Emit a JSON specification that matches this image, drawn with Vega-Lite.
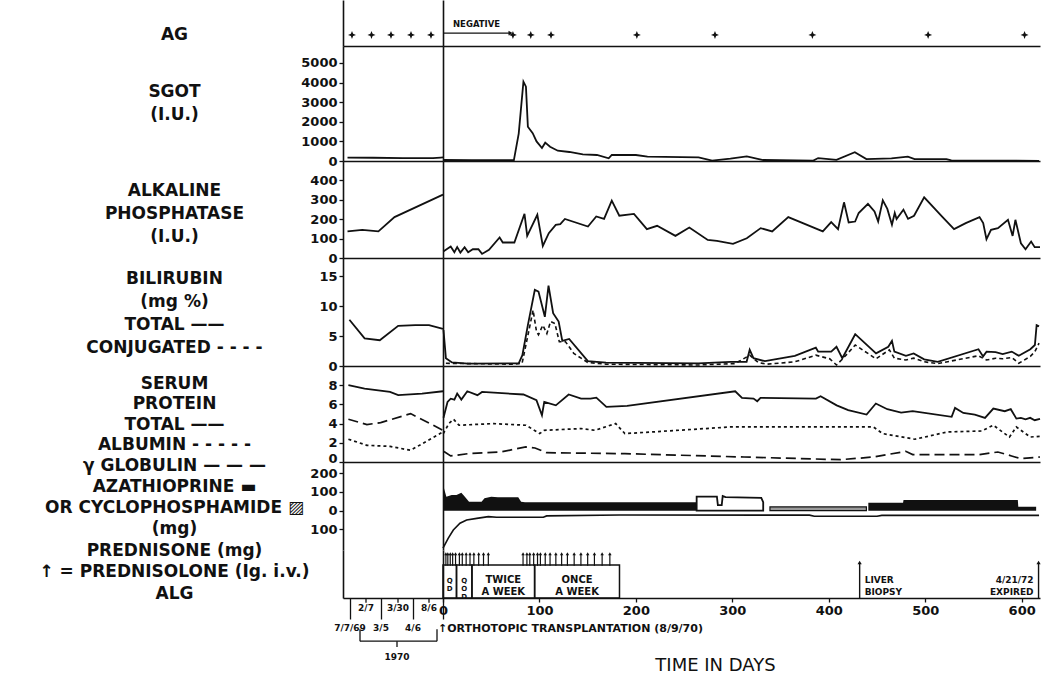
{
"$schema":"https://vega.github.io/schema/vega-lite/v6.json",
"autosize":{"type":"none"},
"padding":{"left":343,"top":0,"right":707,"bottom":686},
"background":"white",
"columns":2,
"spacing":0,
"bounds":"flush",
"config":{
 "view":{"stroke":null},
 "axis":{"grid":false,"domainColor":"#111","domainWidth":1.6,"tickColor":"#111","tickWidth":1.3,"labelColor":"#111","titleColor":"#111","labelFont":"DejaVu Sans","labelFontWeight":"bold","titleFont":"DejaVu Sans","titleFontWeight":"bold","labelFlush":false,"labelOverlap":false},
 "axisX":{"labelOverlap":false},
 "axisY":{"labelOverlap":false},
 "axisQuantitative":{"labelOverlap":false},
 "line":{"color":"#111","strokeWidth":1.8},
 "text":{"font":"DejaVu Sans","fontWeight":"bold","color":"#111"},
 "rule":{"color":"#111"}
},
"datasets":{
 "ag_pre":[{"pos":9},{"pos":28.5},{"pos":48},{"pos":68},{"pos":88}],
 "ag_post":[{"day":72.5},{"day":91},{"day":112},{"day":201},{"day":282},{"day":383},{"day":503},{"day":603}],
 "ag_neg":[{"start":0,"end":70,"label":"NEGATIVE"}],
 "sgot_pre":[{"pos":4.5,"value":170},{"pos":30,"value":165},{"pos":60,"value":150},{"pos":90,"value":150},{"pos":97.6,"value":175},{"pos":100,"value":180}],
 "sgot_post":[{"day":0,"value":50},{"day":30,"value":40},{"day":60,"value":45},{"day":73.5,"value":40},{"day":78.5,"value":1400},{"day":83.4,"value":4045},{"day":86,"value":3790},{"day":88,"value":1750},{"day":93,"value":1420},{"day":97,"value":1000},{"day":102.6,"value":660},{"day":106,"value":935},{"day":111,"value":730},{"day":119,"value":525},{"day":131,"value":460},{"day":145,"value":340},{"day":159.6,"value":306},{"day":171.8,"value":136},{"day":175,"value":306},{"day":200,"value":306},{"day":212,"value":220},{"day":265,"value":190},{"day":279,"value":20},{"day":298,"value":120},{"day":315,"value":240},{"day":332,"value":50},{"day":384,"value":20},{"day":389,"value":150},{"day":408,"value":60},{"day":427,"value":450},{"day":439,"value":100},{"day":465,"value":130},{"day":482,"value":220},{"day":489,"value":100},{"day":522,"value":100},{"day":527,"value":30},{"day":618,"value":10}],
 "alk_pre":[{"pos":4.5,"value":137},{"pos":19.3,"value":145},{"pos":35.4,"value":137},{"pos":51.5,"value":211},{"pos":100,"value":327}],
 "alk_post":[{"day":0.3,"value":33},{"day":8,"value":59},{"day":11.8,"value":30},{"day":14.7,"value":56},{"day":18,"value":28},{"day":22.4,"value":56},{"day":26.1,"value":30},{"day":30.9,"value":45},{"day":36.7,"value":45},{"day":40.5,"value":21},{"day":47.7,"value":42},{"day":58.7,"value":106},{"day":62,"value":80},{"day":74,"value":80},{"day":84.5,"value":228},{"day":87.3,"value":114},{"day":97.8,"value":223},{"day":103.5,"value":62},{"day":109.7,"value":128},{"day":116.9,"value":171},{"day":121.6,"value":175},{"day":126.4,"value":201},{"day":150.3,"value":162},{"day":158.9,"value":214},{"day":167,"value":202},{"day":175,"value":296},{"day":182.8,"value":218},{"day":198,"value":227},{"day":211.4,"value":149},{"day":222,"value":166},{"day":241,"value":114},{"day":255.4,"value":157},{"day":274.5,"value":93},{"day":284,"value":88},{"day":300.7,"value":73},{"day":315,"value":102},{"day":329.4,"value":154},{"day":341.3,"value":137},{"day":358,"value":211},{"day":393.8,"value":137},{"day":402.5,"value":185},{"day":409.6,"value":149},{"day":415.8,"value":287},{"day":420.6,"value":183},{"day":427.3,"value":188},{"day":431,"value":232},{"day":440.6,"value":279},{"day":447.4,"value":240},{"day":451.2,"value":188},{"day":456,"value":297},{"day":460.7,"value":253},{"day":465.5,"value":171},{"day":468.4,"value":232},{"day":470.3,"value":201},{"day":477.4,"value":249},{"day":482.2,"value":202},{"day":488.4,"value":218},{"day":498.9,"value":313},{"day":518,"value":211},{"day":529.9,"value":149},{"day":542,"value":180},{"day":556.3,"value":211},{"day":560.1,"value":180},{"day":563.5,"value":97},{"day":568.2,"value":145},{"day":575.4,"value":154},{"day":585.8,"value":197},{"day":590.6,"value":114},{"day":593.5,"value":197},{"day":599.2,"value":76},{"day":604,"value":45},{"day":609.8,"value":85},{"day":613.5,"value":56},{"day":619,"value":56}],
 "bili_pre":[{"pos":6.4,"value":7.7,"series":"total"},{"pos":21.6,"value":4.6,"series":"total"},{"pos":36.8,"value":4.3,"series":"total"},{"pos":55.2,"value":6.7,"series":"total"},{"pos":72.3,"value":6.8,"series":"total"},{"pos":86,"value":6.8,"series":"total"},{"pos":100,"value":6.2,"series":"total"}],
 "bili_post":[
  {"day":0.5,"value":6.0,"series":"total"},{"day":3,"value":1.3,"series":"total"},{"day":9.3,"value":0.6,"series":"total"},{"day":26,"value":0.4,"series":"total"},{"day":78.5,"value":0.45,"series":"total"},{"day":82.3,"value":1.8,"series":"total"},{"day":88,"value":6.8,"series":"total"},{"day":95.2,"value":12.7,"series":"total"},{"day":99,"value":12.4,"series":"total"},{"day":105.6,"value":8.2,"series":"total"},{"day":109.4,"value":13.4,"series":"total"},{"day":114.2,"value":8.8,"series":"total"},{"day":119.9,"value":7.4,"series":"total"},{"day":123.7,"value":4.2,"series":"total"},{"day":130.8,"value":4.5,"series":"total"},{"day":150.2,"value":0.8,"series":"total"},{"day":169,"value":0.55,"series":"total"},{"day":264.7,"value":0.45,"series":"total"},{"day":298,"value":0.7,"series":"total"},{"day":314.8,"value":0.7,"series":"total"},{"day":318,"value":2.7,"series":"total"},{"day":321.9,"value":1.3,"series":"total"},{"day":333.8,"value":0.8,"series":"total"},{"day":364.8,"value":1.7,"series":"total"},{"day":386.6,"value":3.05,"series":"total"},{"day":389,"value":2.4,"series":"total"},{"day":402.5,"value":2.4,"series":"total"},{"day":408,"value":3.2,"series":"total"},{"day":414,"value":1.3,"series":"total"},{"day":427.4,"value":5.3,"series":"total"},{"day":449,"value":2.1,"series":"total"},{"day":461.7,"value":3.2,"series":"total"},{"day":465.5,"value":4.2,"series":"total"},{"day":468,"value":2.4,"series":"total"},{"day":480,"value":1.7,"series":"total"},{"day":488,"value":2.1,"series":"total"},{"day":498.9,"value":1.1,"series":"total"},{"day":513,"value":0.7,"series":"total"},{"day":555.2,"value":2.8,"series":"total"},{"day":560,"value":1.6,"series":"total"},{"day":563.6,"value":2.4,"series":"total"},{"day":573,"value":2.3,"series":"total"},{"day":580.3,"value":2.0,"series":"total"},{"day":589.7,"value":2.4,"series":"total"},{"day":597,"value":1.7,"series":"total"},{"day":609,"value":2.8,"series":"total"},{"day":613.7,"value":3.5,"series":"total"},{"day":615.5,"value":6.8,"series":"total"},{"day":618,"value":6.6,"series":"total"},
  {"day":3,"value":0.45,"series":"conjugated"},{"day":74,"value":0.3,"series":"conjugated"},{"day":82,"value":0.45,"series":"conjugated"},{"day":87,"value":4.3,"series":"conjugated"},{"day":93.4,"value":9.3,"series":"conjugated"},{"day":97,"value":5.7,"series":"conjugated"},{"day":99,"value":5.2,"series":"conjugated"},{"day":103.5,"value":6.8,"series":"conjugated"},{"day":107.7,"value":5.4,"series":"conjugated"},{"day":111.5,"value":7.4,"series":"conjugated"},{"day":116,"value":7.1,"series":"conjugated"},{"day":120.6,"value":4.05,"series":"conjugated"},{"day":127,"value":4.05,"series":"conjugated"},{"day":135.6,"value":2.1,"series":"conjugated"},{"day":150,"value":0.6,"series":"conjugated"},{"day":169,"value":0.3,"series":"conjugated"},{"day":264.7,"value":0.17,"series":"conjugated"},{"day":302.8,"value":0.4,"series":"conjugated"},{"day":318,"value":1.8,"series":"conjugated"},{"day":326.8,"value":0.6,"series":"conjugated"},{"day":336,"value":0.3,"series":"conjugated"},{"day":364.8,"value":0.7,"series":"conjugated"},{"day":386.6,"value":1.8,"series":"conjugated"},{"day":401,"value":1.2,"series":"conjugated"},{"day":408,"value":0.17,"series":"conjugated"},{"day":415,"value":1.3,"series":"conjugated"},{"day":427.4,"value":3.5,"series":"conjugated"},{"day":449,"value":1.2,"series":"conjugated"},{"day":462.8,"value":2.7,"series":"conjugated"},{"day":468,"value":1.3,"series":"conjugated"},{"day":480,"value":1.0,"series":"conjugated"},{"day":488,"value":1.3,"series":"conjugated"},{"day":499,"value":0.7,"series":"conjugated"},{"day":513,"value":0.4,"series":"conjugated"},{"day":555,"value":1.7,"series":"conjugated"},{"day":563.6,"value":1.0,"series":"conjugated"},{"day":573,"value":1.3,"series":"conjugated"},{"day":580,"value":1.2,"series":"conjugated"},{"day":590,"value":1.4,"series":"conjugated"},{"day":597,"value":0.45,"series":"conjugated"},{"day":609,"value":1.6,"series":"conjugated"},{"day":613.7,"value":2.4,"series":"conjugated"},{"day":618,"value":3.8,"series":"conjugated"}],
 "prot_pre":[
  {"pos":5.4,"value":8.0,"series":"total"},{"pos":21.6,"value":7.65,"series":"total"},{"pos":47,"value":7.3,"series":"total"},{"pos":55.2,"value":6.96,"series":"total"},{"pos":79,"value":7.13,"series":"total"},{"pos":100,"value":7.37,"series":"total"},
  {"pos":5.4,"value":2.37,"series":"albumin"},{"pos":23.9,"value":1.74,"series":"albumin"},{"pos":47,"value":1.63,"series":"albumin"},{"pos":67.6,"value":1.22,"series":"albumin"},{"pos":100,"value":3.13,"series":"albumin"},
  {"pos":5.4,"value":4.45,"series":"globulin"},{"pos":23.9,"value":3.9,"series":"globulin"},{"pos":37.7,"value":4.1,"series":"globulin"},{"pos":67.6,"value":5.04,"series":"globulin"},{"pos":100,"value":3.3,"series":"globulin"}],
 "prot_post":[
  {"day":0.5,"value":4.6,"series":"total"},{"day":4.7,"value":6.26,"series":"total"},{"day":8,"value":6.6,"series":"total"},{"day":11.8,"value":6.5,"series":"total"},{"day":14.7,"value":7.13,"series":"total"},{"day":19,"value":6.5,"series":"total"},{"day":25.2,"value":7.37,"series":"total"},{"day":35.7,"value":6.96,"series":"total"},{"day":40.5,"value":7.3,"series":"total"},{"day":83.4,"value":7.03,"series":"total"},{"day":96.9,"value":6.43,"series":"total"},{"day":102.6,"value":4.87,"series":"total"},{"day":105,"value":6.26,"series":"total"},{"day":117,"value":5.9,"series":"total"},{"day":130.3,"value":7.03,"series":"total"},{"day":143.2,"value":6.6,"series":"total"},{"day":152.9,"value":6.6,"series":"total"},{"day":159,"value":6.7,"series":"total"},{"day":169.4,"value":5.74,"series":"total"},{"day":190.9,"value":5.84,"series":"total"},{"day":303,"value":7.37,"series":"total"},{"day":310,"value":6.68,"series":"total"},{"day":322,"value":6.6,"series":"total"},{"day":325.8,"value":6.33,"series":"total"},{"day":329.2,"value":6.68,"series":"total"},{"day":386.7,"value":6.6,"series":"total"},{"day":391.5,"value":6.85,"series":"total"},{"day":408.2,"value":5.9,"series":"total"},{"day":420.1,"value":5.4,"series":"total"},{"day":439.2,"value":4.94,"series":"total"},{"day":448.8,"value":6.09,"series":"total"},{"day":460.7,"value":5.5,"series":"total"},{"day":475,"value":5.15,"series":"total"},{"day":487,"value":5.29,"series":"total"},{"day":527.4,"value":4.7,"series":"total"},{"day":530.9,"value":5.63,"series":"total"},{"day":539.5,"value":5.11,"series":"total"},{"day":551.4,"value":4.94,"series":"total"},{"day":562,"value":4.6,"series":"total"},{"day":570.6,"value":5.57,"series":"total"},{"day":582.5,"value":5.29,"series":"total"},{"day":588.7,"value":5.5,"series":"total"},{"day":594.5,"value":4.52,"series":"total"},{"day":599.2,"value":4.6,"series":"total"},{"day":604,"value":4.45,"series":"total"},{"day":608.8,"value":4.6,"series":"total"},{"day":613.5,"value":4.35,"series":"total"},{"day":619,"value":4.5,"series":"total"},
  {"day":0.3,"value":2.96,"series":"albumin"},{"day":6.1,"value":4.0,"series":"albumin"},{"day":10.9,"value":4.45,"series":"albumin"},{"day":16.6,"value":3.83,"series":"albumin"},{"day":52.4,"value":4.0,"series":"albumin"},{"day":86,"value":3.83,"series":"albumin"},{"day":100.3,"value":2.96,"series":"albumin"},{"day":105,"value":3.3,"series":"albumin"},{"day":143.2,"value":3.48,"series":"albumin"},{"day":157.5,"value":3.3,"series":"albumin"},{"day":179,"value":4.0,"series":"albumin"},{"day":188.6,"value":2.96,"series":"albumin"},{"day":217.2,"value":3.13,"series":"albumin"},{"day":298,"value":3.65,"series":"albumin"},{"day":446.3,"value":3.65,"series":"albumin"},{"day":455.9,"value":2.96,"series":"albumin"},{"day":489.3,"value":2.37,"series":"albumin"},{"day":522.7,"value":3.13,"series":"albumin"},{"day":558.5,"value":3.23,"series":"albumin"},{"day":570.6,"value":3.83,"series":"albumin"},{"day":587.3,"value":2.6,"series":"albumin"},{"day":594.5,"value":3.65,"series":"albumin"},{"day":609,"value":2.6,"series":"albumin"},{"day":619,"value":2.68,"series":"albumin"},
  {"day":1,"value":1.1,"series":"globulin"},{"day":8,"value":0.63,"series":"globulin"},{"day":26,"value":0.87,"series":"globulin"},{"day":59.6,"value":1.04,"series":"globulin"},{"day":86,"value":1.57,"series":"globulin"},{"day":95.4,"value":1.46,"series":"globulin"},{"day":107.4,"value":0.97,"series":"globulin"},{"day":188.6,"value":0.87,"series":"globulin"},{"day":312.1,"value":0.52,"series":"globulin"},{"day":412.3,"value":0.24,"series":"globulin"},{"day":446,"value":0.52,"series":"globulin"},{"day":479.8,"value":1.11,"series":"globulin"},{"day":487,"value":0.77,"series":"globulin"},{"day":556,"value":0.77,"series":"globulin"},{"day":575.3,"value":1.04,"series":"globulin"},{"day":589.5,"value":0.63,"series":"globulin"},{"day":599,"value":0.35,"series":"globulin"},{"day":619,"value":0.52,"series":"globulin"}],
 "aza":[{"day":0,"value":95,"course":1},{"day":1,"value":120,"course":1},{"day":3.5,"value":75,"course":1},{"day":9,"value":84,"course":1},{"day":14,"value":84,"course":1},{"day":19,"value":96,"course":1},{"day":22,"value":79,"course":1},{"day":27,"value":48,"course":1},{"day":40,"value":48,"course":1},{"day":43,"value":66,"course":1},{"day":50,"value":75,"course":1},{"day":57,"value":72,"course":1},{"day":78,"value":72,"course":1},{"day":81,"value":48,"course":1},{"day":85,"value":45,"course":1},{"day":263,"value":45,"course":1},
  {"day":441,"value":43,"course":2},{"day":477,"value":43,"course":2},{"day":477.5,"value":57,"course":2},{"day":596,"value":57,"course":2},{"day":596.5,"value":21,"course":2},{"day":615,"value":21,"course":2}],
 "cyclo":[{"day":263,"value":75,"block":"A"},{"day":284,"value":75,"block":"A"},{"day":285,"value":30,"block":"A"},{"day":289,"value":30,"block":"A"},{"day":290,"value":78,"block":"A"},{"day":293,"value":72,"block":"A"},{"day":330,"value":68,"block":"A"},{"day":332,"value":45,"block":"A"},
  {"day":339,"value":20,"block":"B"},{"day":439,"value":20,"block":"B"}],
 "pred":[{"day":0,"value":-200},{"day":5.5,"value":-147},{"day":10.7,"value":-103},{"day":17.6,"value":-67},{"day":24.5,"value":-50},{"day":35,"value":-41},{"day":47,"value":-32},{"day":55.6,"value":-35},{"day":104,"value":-35},{"day":107.5,"value":-28},{"day":183,"value":-23},{"day":380,"value":-24},{"day":385,"value":-30},{"day":450,"value":-30},{"day":455,"value":-25},{"day":618,"value":-25}],
 "pulses":[{"day":3},{"day":5},{"day":7.5},{"day":10},{"day":13},{"day":17},{"day":20},{"day":24},{"day":28},{"day":32},{"day":37},{"day":42},{"day":47},{"day":83},{"day":87},{"day":90},{"day":94},{"day":98},{"day":101},{"day":106},{"day":111},{"day":117},{"day":123},{"day":129},{"day":136},{"day":143},{"day":150},{"day":157},{"day":165},{"day":173}],
 "alg":[{"start":0,"end":14,"mid":7,"label":"Q\nD"},{"start":14,"end":30,"mid":22,"label":"Q\nO\nD"},{"start":30,"end":95,"mid":62.5,"label":"TWICE\nA WEEK"},{"start":95,"end":183,"mid":139,"label":"ONCE\nA WEEK"}],
 "events":[{"day":432,"label":"LIVER\nBIOPSY"},{"day":617.5,"label":"4/21/72\nEXPIRED"}],
 "transplant":[{"day":0,"label":"↑ORTHOTOPIC  TRANSPLANTATION (8/9/70)"}],
 "year":[{"start":17,"end":94,"mid":54,"label":"1970"}],
 "pre_dates":[{"pos":7,"label":"7/7/69","row":"low"},{"pos":23,"label":"2/7","row":"high"},{"pos":38,"label":"3/5","row":"low"},{"pos":55,"label":"3/30","row":"high"},{"pos":70,"label":"4/6","row":"low"},{"pos":86,"label":"8/6","row":"high"}]
},
"concat":[
 {"width":100,"height":46,"data":{"name":"ag_pre"},
  "mark":{"type":"point","shape":"M0,-1L0.28,-0.28L1,0L0.28,0.28L0,1L-0.28,0.28L-1,0L-0.28,-0.28Z","filled":true,"color":"#111","size":64,"opacity":1},
  "encoding":{
   "x":{"field":"pos","type":"quantitative","scale":{"domain":[0,100],"nice":false,"zero":false},"axis":{"title":null,"labels":false,"ticks":false}},
   "y":{"datum":0.24,"type":"quantitative","scale":{"domain":[0,1],"nice":false},"axis":{"title":"AG","titleAngle":0,"titleAlign":"center","titleBaseline":"top","titleX":-169,"titleY":26,"titleFontSize":17,"labels":false,"ticks":false}}}},
 {"width":597,"height":46,
  "layer":[
   {"data":{"name":"ag_post"},"mark":{"type":"point","shape":"M0,-1L0.28,-0.28L1,0L0.28,0.28L0,1L-0.28,0.28L-1,0L-0.28,-0.28Z","filled":true,"color":"#111","size":64,"opacity":1},
    "encoding":{"x":{"field":"day","type":"quantitative","scale":{"domain":[0,619],"nice":false,"zero":false},"axis":{"title":null,"labels":false,"ticks":false}},"y":{"datum":0.24,"type":"quantitative","scale":{"domain":[0,1],"nice":false},"axis":{"title":null,"labels":false,"ticks":false}}}},
   {"data":{"name":"ag_neg"},"mark":{"type":"rule","strokeWidth":1.3},
    "encoding":{"x":{"field":"start","type":"quantitative"},"x2":{"field":"end"},"y":{"datum":0.28,"type":"quantitative"}}},
   {"data":{"name":"ag_neg"},"mark":{"type":"point","shape":"triangle-right","filled":true,"color":"#111","size":22,"opacity":1},
    "encoding":{"x":{"field":"end","type":"quantitative"},"y":{"datum":0.28,"type":"quantitative"}}},
   {"data":{"name":"ag_neg"},"mark":{"type":"text","align":"left","baseline":"middle","fontSize":8.5,"dx":10},
    "encoding":{"x":{"field":"start","type":"quantitative"},"y":{"datum":0.47,"type":"quantitative"},"text":{"field":"label"}}}
  ]},
 {"width":100,"height":115,"data":{"name":"sgot_pre"},"mark":{"type":"line"},
  "encoding":{
   "x":{"field":"pos","type":"quantitative","scale":{"domain":[0,100],"nice":false,"zero":false},"axis":{"title":null,"labels":false,"ticks":false}},
   "y":{"field":"value","type":"quantitative","scale":{"domain":[0,5867],"nice":false},"axis":{"values":[0,1000,2000,3000,4000,5000],"format":"d","labelOverlap":false,"title":["SGOT","(I.U.)"],"titleAngle":0,"titleAlign":"center","titleBaseline":"top","titleX":-169,"titleY":37,"titleLineHeight":23,"titleFontSize":17,"labelFontSize":13,"tickSize":4,"labelPadding":2}}}},
 {"width":597,"height":115,"data":{"name":"sgot_post"},"mark":{"type":"line"},
  "encoding":{
   "x":{"field":"day","type":"quantitative","scale":{"domain":[0,619],"nice":false,"zero":false},"axis":{"title":null,"labels":false,"ticks":false}},
   "y":{"field":"value","type":"quantitative","scale":{"domain":[0,5867],"nice":false},"axis":{"title":null,"labels":false,"ticks":false}}}},
 {"width":100,"height":97,"data":{"name":"alk_pre"},"mark":{"type":"line"},
  "encoding":{
   "x":{"field":"pos","type":"quantitative","scale":{"domain":[0,100],"nice":false,"zero":false},"axis":{"title":null,"labels":false,"ticks":false}},
   "y":{"field":"value","type":"quantitative","scale":{"domain":[0,500],"nice":false},"axis":{"values":[0,100,200,300,400],"labelOverlap":false,"title":["ALKALINE","PHOSPHATASE","(I.U.)"],"titleAngle":0,"titleAlign":"center","titleBaseline":"top","titleX":-169,"titleY":21,"titleLineHeight":23,"titleFontSize":17,"labelFontSize":13,"tickSize":4,"labelPadding":2}}}},
 {"width":597,"height":97,"data":{"name":"alk_post"},"mark":{"type":"line"},
  "encoding":{
   "x":{"field":"day","type":"quantitative","scale":{"domain":[0,619],"nice":false,"zero":false},"axis":{"title":null,"labels":false,"ticks":false}},
   "y":{"field":"value","type":"quantitative","scale":{"domain":[0,500],"nice":false},"axis":{"title":null,"labels":false,"ticks":false}}}},
 {"width":100,"height":108,"data":{"name":"bili_pre"},"mark":{"type":"line"},
  "encoding":{
   "x":{"field":"pos","type":"quantitative","scale":{"domain":[0,100],"nice":false,"zero":false},"axis":{"title":null,"labels":false,"ticks":false}},
   "y":{"field":"value","type":"quantitative","scale":{"domain":[0,18],"nice":false},"axis":{"values":[0,5,10,15],"labelOverlap":false,"title":["BILIRUBIN","(mg %)","TOTAL ——","CONJUGATED - - - -"],"titleAngle":0,"titleAlign":"center","titleBaseline":"top","titleX":-169,"titleY":12,"titleLineHeight":23,"titleFontSize":17,"labelFontSize":13,"tickSize":4,"labelPadding":2}},
   "detail":{"field":"series"}}},
 {"width":597,"height":108,
  "layer":[
   {"data":{"name":"bili_post"},"transform":[{"filter":"datum.series == 'total'"}],"mark":{"type":"line"},
    "encoding":{
     "x":{"field":"day","type":"quantitative","scale":{"domain":[0,619],"nice":false,"zero":false},"axis":{"title":null,"labels":false,"ticks":false}},
     "y":{"field":"value","type":"quantitative","scale":{"domain":[0,18],"nice":false},"axis":{"title":null,"labels":false,"ticks":false}}}},
   {"data":{"name":"bili_post"},"transform":[{"filter":"datum.series == 'conjugated'"}],"mark":{"type":"line","strokeDash":[4,3],"strokeWidth":1.6},
    "encoding":{"x":{"field":"day","type":"quantitative"},"y":{"field":"value","type":"quantitative"}}}
  ]},
 {"width":100,"height":96,"data":{"name":"prot_pre"},
  "encoding":{
   "x":{"field":"pos","type":"quantitative","scale":{"domain":[0,100],"nice":false,"zero":false},"axis":{"title":null,"labels":false,"ticks":false}},
   "y":{"field":"value","type":"quantitative","scale":{"domain":[0,10],"nice":false},"axis":{"values":[0,2,4,6,8],"labelOverlap":false,"labelBaseline":{"condition":{"test":"datum.value == 0","value":"alphabetic"},"value":"middle"},"title":["SERUM","PROTEIN","TOTAL ——","ALBUMIN - - - - -","γ GLOBULIN — — —"],"titleAngle":0,"titleAlign":"center","titleBaseline":"top","titleX":-169,"titleY":9,"titleLineHeight":20.5,"titleFontSize":17,"labelFontSize":13,"tickSize":4,"labelPadding":2}}},
  "layer":[
   {"transform":[{"filter":"datum.series == 'total'"}],"mark":{"type":"line"}},
   {"transform":[{"filter":"datum.series == 'albumin'"}],"mark":{"type":"line","strokeDash":[3,3],"strokeWidth":1.7}},
   {"transform":[{"filter":"datum.series == 'globulin'"}],"mark":{"type":"line","strokeDash":[10,5],"strokeWidth":1.7}}
  ]},
 {"width":597,"height":96,"data":{"name":"prot_post"},
  "encoding":{
   "x":{"field":"day","type":"quantitative","scale":{"domain":[0,619],"nice":false,"zero":false},"axis":{"title":null,"labels":false,"ticks":false}},
   "y":{"field":"value","type":"quantitative","scale":{"domain":[0,10],"nice":false},"axis":{"title":null,"labels":false,"ticks":false}}},
  "layer":[
   {"transform":[{"filter":"datum.series == 'total'"}],"mark":{"type":"line"}},
   {"transform":[{"filter":"datum.series == 'albumin'"}],"mark":{"type":"line","strokeDash":[3,3],"strokeWidth":1.7}},
   {"transform":[{"filter":"datum.series == 'globulin'"}],"mark":{"type":"line","strokeDash":[10,5],"strokeWidth":1.7}}
  ]},
 {"width":100,"height":88,"data":{"name":"pred"},"transform":[{"filter":"datum.day < -1000"}],"mark":{"type":"line"},
  "encoding":{
   "x":{"field":"day","type":"quantitative","scale":{"domain":[0,100],"nice":false,"zero":false},"axis":null},
   "y":{"field":"value","type":"quantitative","scale":{"domain":[-210,260],"nice":false,"zero":false},"axis":{"values":[200,100,0,-100],"labelOverlap":false,"labelExpr":"abs(datum.value)","title":["AZATHIOPRINE ▬","OR  CYCLOPHOSPHAMIDE ▨","(mg)","PREDNISONE (mg)","↑ = PREDNISOLONE (Ig. i.v.)","ALG"],"titleAngle":0,"titleAlign":"center","titleBaseline":"top","titleX":-169,"titleY":16,"titleLineHeight":21.4,"titleFontSize":17,"labelFontSize":13,"tickSize":4,"labelPadding":2}}}},
 {"width":597,"height":88,
  "layer":[
   {"data":{"name":"aza"},"mark":{"type":"area","color":"#111"},
    "encoding":{"x":{"field":"day","type":"quantitative","scale":{"domain":[0,619],"nice":false,"zero":false},"axis":null},
     "y":{"field":"value","type":"quantitative","scale":{"domain":[-210,260],"nice":false,"zero":false},"axis":{"title":null,"labels":false,"ticks":false}},
     "y2":{"datum":0},"detail":{"field":"course"}}},
   {"data":{"name":"cyclo"},"transform":[{"filter":"datum.block == 'A'"}],"mark":{"type":"area","fill":"white","stroke":"#111","strokeWidth":1.8},
    "encoding":{"x":{"field":"day","type":"quantitative"},"y":{"field":"value","type":"quantitative"},"y2":{"datum":0}}},
   {"data":{"name":"cyclo"},"transform":[{"filter":"datum.block == 'B'"}],"mark":{"type":"area","fill":"#9a9a9a","stroke":"#111","strokeWidth":1.2},
    "encoding":{"x":{"field":"day","type":"quantitative"},"y":{"field":"value","type":"quantitative"},"y2":{"datum":0}}},
   {"data":{"name":"pred"},"mark":{"type":"line","strokeWidth":1.6},
    "encoding":{"x":{"field":"day","type":"quantitative"},"y":{"field":"value","type":"quantitative"}}}
  ]},
 {"width":100,"height":48,
  "encoding":{
   "x":{"type":"quantitative","scale":{"domain":[0,100],"nice":false,"zero":false},"axis":{"values":[7,38,70,100],"labels":false,"title":null,"tickSize":21}},
   "y":{"type":"quantitative","scale":{"domain":[0,1],"nice":false,"zero":false},"axis":{"title":null,"labels":false,"ticks":false}}},
  "layer":[
   {"data":{"name":"year"},"mark":{"type":"rule","strokeWidth":1.3},
    "encoding":{"x":{"field":"start"},"x2":{"field":"end"},"y":{"datum":-0.9}}},
   {"data":{"name":"year"},"mark":{"type":"rule","strokeWidth":1.3},
    "encoding":{"x":{"field":"start"},"y":{"datum":-0.65},"y2":{"datum":-0.9}}},
   {"data":{"name":"year"},"mark":{"type":"rule","strokeWidth":1.3},
    "encoding":{"x":{"field":"end"},"y":{"datum":-0.65},"y2":{"datum":-0.9}}},
   {"data":{"name":"year"},"mark":{"type":"rule","strokeWidth":1.3},
    "encoding":{"x":{"field":"mid"},"y":{"datum":-0.9},"y2":{"datum":-1.02}}},
   {"data":{"name":"year"},"mark":{"type":"text","fontSize":9,"baseline":"middle"},
    "encoding":{"x":{"field":"mid"},"y":{"datum":-1.22},"text":{"field":"label"}}},
   {"data":{"name":"pre_dates"},"transform":[{"filter":"datum.row == 'high'"}],"mark":{"type":"rule","strokeWidth":1.3},
    "encoding":{"x":{"field":"pos"},"y":{"datum":0},"y2":{"datum":-0.1}}},
   {"data":{"name":"pre_dates"},"transform":[{"filter":"datum.row == 'high'"}],"mark":{"type":"text","fontSize":9,"baseline":"middle"},
    "encoding":{"x":{"field":"pos"},"y":{"datum":-0.21},"text":{"field":"label"}}},
   {"data":{"name":"pre_dates"},"transform":[{"filter":"datum.row == 'low'"}],"mark":{"type":"text","fontSize":9,"baseline":"middle"},
    "encoding":{"x":{"field":"pos"},"y":{"datum":-0.62},"text":{"field":"label"}}}
  ]},
 {"width":597,"height":48,
  "layer":[
   {"data":{"name":"alg"},"mark":{"type":"rect","fill":null,"fillOpacity":0,"stroke":"#111","strokeWidth":1.5},
    "encoding":{"x":{"field":"start","type":"quantitative","scale":{"domain":[0,619],"nice":false,"zero":false},
      "axis":{"values":[0,100,200,300,400,500,600],"labelOverlap":false,"labelFontSize":13,"tickSize":4,"labelPadding":2,"title":"TIME IN DAYS","titleFontSize":18,"titleFontWeight":"normal","titleX":272,"titleY":67,"titleBaseline":"middle","titleAlign":"center"}},
     "x2":{"field":"end"},
     "y":{"datum":0,"type":"quantitative","scale":{"domain":[0,1],"nice":false,"zero":false},"axis":{"title":null,"labels":false,"ticks":false}},
     "y2":{"datum":0.69}}},
   {"data":{"name":"alg"},"transform":[{"filter":"datum.end - datum.start > 20"}],"mark":{"type":"text","fontSize":10,"lineBreak":"\n","lineHeight":12,"baseline":"middle"},
    "encoding":{"x":{"field":"mid","type":"quantitative"},"y":{"datum":0.37,"type":"quantitative"},"text":{"field":"label"}}},
   {"data":{"name":"alg"},"transform":[{"filter":"datum.end - datum.start <= 20"}],"mark":{"type":"text","fontSize":7,"lineBreak":"\n","lineHeight":8,"baseline":"middle"},
    "encoding":{"x":{"field":"mid","type":"quantitative"},"y":{"datum":0.35,"type":"quantitative"},"text":{"field":"label"}}},
   {"data":{"name":"pulses"},"mark":{"type":"rule","strokeWidth":1.2},
    "encoding":{"x":{"field":"day","type":"quantitative"},"y":{"datum":0.67,"type":"quantitative"},"y2":{"datum":0.9}}},
   {"data":{"name":"pulses"},"mark":{"type":"point","shape":"triangle-up","filled":true,"color":"#111","size":12,"opacity":1},
    "encoding":{"x":{"field":"day","type":"quantitative"},"y":{"datum":0.92,"type":"quantitative"}}},
   {"data":{"name":"events"},"mark":{"type":"rule","strokeWidth":1.4},
    "encoding":{"x":{"field":"day","type":"quantitative"},"y":{"datum":0,"type":"quantitative"},"y2":{"datum":0.72}}},
   {"data":{"name":"events"},"mark":{"type":"point","shape":"triangle-up","filled":true,"color":"#111","size":18,"opacity":1},
    "encoding":{"x":{"field":"day","type":"quantitative"},"y":{"datum":0.74,"type":"quantitative"}}},
   {"data":{"name":"events"},"transform":[{"filter":"datum.day < 500"}],"mark":{"type":"text","fontSize":9,"lineBreak":"\n","lineHeight":12,"align":"left","baseline":"middle","dx":5},
    "encoding":{"x":{"field":"day","type":"quantitative"},"y":{"datum":0.37,"type":"quantitative"},"text":{"field":"label"}}},
   {"data":{"name":"events"},"transform":[{"filter":"datum.day > 500"}],"mark":{"type":"text","fontSize":9,"lineBreak":"\n","lineHeight":12,"align":"right","baseline":"middle","dx":-5},
    "encoding":{"x":{"field":"day","type":"quantitative"},"y":{"datum":0.37,"type":"quantitative"},"text":{"field":"label"}}},
   {"data":{"name":"transplant"},"mark":{"type":"text","fontSize":11,"align":"left","baseline":"middle","dx":-5},
    "encoding":{"x":{"field":"day","type":"quantitative"},"y":{"datum":-0.65,"type":"quantitative"},"text":{"field":"label"}}}
  ]}
]
}
